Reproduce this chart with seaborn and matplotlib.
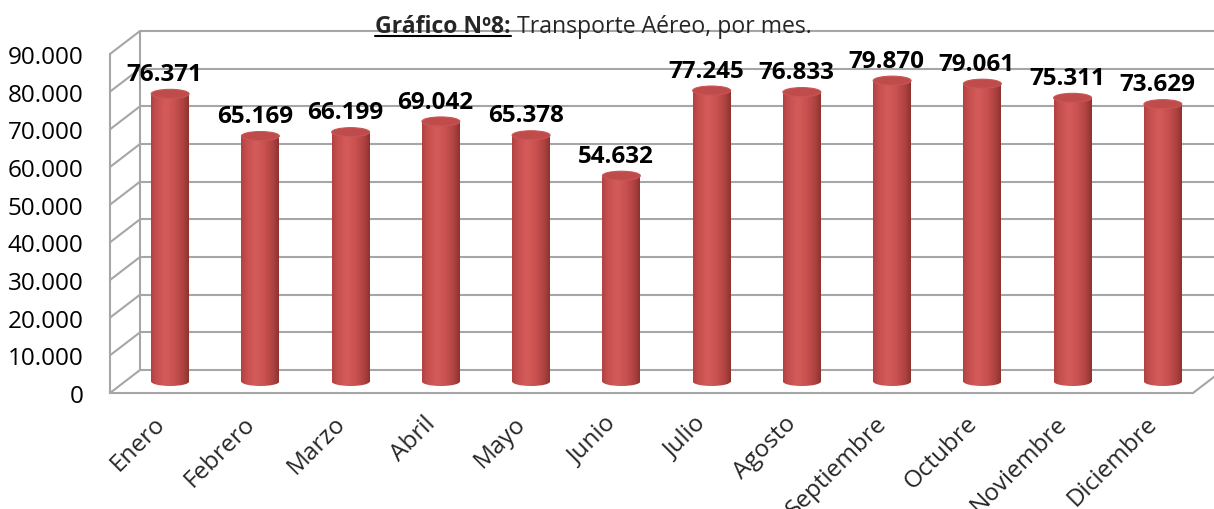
import numpy as np
import pandas as pd
import matplotlib
matplotlib.use("Agg")
import matplotlib.pyplot as plt
import seaborn as sns
from matplotlib.patches import Ellipse
from matplotlib.lines import Line2D
from matplotlib.colors import LinearSegmentedColormap
from matplotlib.ticker import FuncFormatter, FixedLocator
from matplotlib.transforms import ScaledTranslation

# ---- data ----
months = ["Enero", "Febrero", "Marzo", "Abril", "Mayo", "Junio", "Julio",
          "Agosto", "Septiembre", "Octubre", "Noviembre", "Diciembre"]
values = [76371, 65169, 66199, 69042, 65378, 54632, 77245,
          76833, 79870, 79061, 75311, 73629]
y_ticks = [0, 10000, 20000, 30000, 40000, 50000, 60000, 70000, 80000, 90000]
title_bold = "Gráfico Nº8:"
title_rest = " Transporte Aéreo, por mes."

sns.set_style("white")
plt.rcParams["font.family"] = ["Open Sans", "DejaVu Sans"]

W, H = 1214, 510
fig = plt.figure(figsize=(W / 100, H / 100), dpi=100)

# front plane geometry (pixels)
L, B, AW, AH = 110, 394, 1083, 339
DEPTH_X, DEPTH_Y = 30, 23          # back wall offset
ax = fig.add_axes([L / W, (H - B) / H, AW / W, AH / H])
axb = fig.add_axes([(L + DEPTH_X / 2) / W, (H - B + DEPTH_Y / 2) / H, AW / W, AH / H])

XMIN, XMAX, YMAX = -0.5, len(months) - 0.5, 90000
for a in (ax, axb):
    a.set_xlim(XMIN, XMAX)
    a.set_ylim(0, YMAX)
    a.patch.set_alpha(0)

ddx = DEPTH_X / AW * (XMAX - XMIN)
ddy = DEPTH_Y / AH * YMAX
grid_c = "#a6a6a6"
lw = 1.5
FS = 17.5

# back wall gridlines & left side wall
for t in y_ticks:
    ax.add_line(Line2D([XMIN + ddx, XMAX + ddx], [t + ddy, t + ddy], color=grid_c, lw=lw, clip_on=False))
    ax.add_line(Line2D([XMIN, XMIN + ddx], [t, t + ddy], color=grid_c, lw=lw, clip_on=False))
ax.add_line(Line2D([XMIN + ddx, XMIN + ddx], [ddy, YMAX + ddy], color=grid_c, lw=lw, clip_on=False))
ax.add_line(Line2D([XMAX, XMAX + ddx], [0, ddy], color=grid_c, lw=lw, clip_on=False))

# front axes spines / ticks
for s in ["top", "right"]:
    ax.spines[s].set_visible(False)
for s in ["left", "bottom"]:
    ax.spines[s].set_color(grid_c)
    ax.spines[s].set_linewidth(lw)
ax.yaxis.set_major_locator(FixedLocator(y_ticks))
ax.yaxis.set_major_formatter(FuncFormatter(lambda v, p: f"{int(v):,}".replace(",", ".")))
ax.tick_params(axis="y", direction="out", length=4, width=lw, color=grid_c, pad=15,
               labelsize=FS, labelcolor="black")
ax.xaxis.set_major_locator(FixedLocator(np.arange(XMIN, XMAX + 0.01, 1.0)))
ax.xaxis.set_minor_locator(FixedLocator(np.arange(len(months))))
ax.tick_params(axis="x", which="major", direction="out", length=5, width=lw, color=grid_c,
               labelbottom=False)
ax.tick_params(axis="x", which="minor", length=0, pad=19, labelsize=FS)
ax.set_xticklabels(months, minor=True, rotation=45, ha="right", rotation_mode="anchor", va="center")
ax.set_xlabel("")
ax.set_ylabel("")

# ---- cylinders ----
df = pd.DataFrame({"mes": months, "valor": values})
sns.barplot(data=df, x="mes", y="valor", order=months, ax=axb, color="#C0504D", width=0.42,
            saturation=1, zorder=3)
axb.set_axis_off()
axb.set_xlim(XMIN, XMAX)
axb.set_ylim(0, YMAX)

cmap = LinearSegmentedColormap.from_list(
    "cyl", [(0, "#B24241"), (0.15, "#C65050"), (0.38, "#D45B59"), (0.62, "#C95250"),
            (0.86, "#AD4240"), (1, "#8E3331")])
grad = np.linspace(0, 1, 64).reshape(1, -1)
ell_h = 9 / AH * YMAX
for p in list(axb.patches):
    x0, w, h = p.get_x(), p.get_width(), p.get_height()
    p.set_facecolor("none")
    p.set_edgecolor("none")
    img = axb.imshow(grad, cmap=cmap, extent=[x0, x0 + w, 0, h], aspect="auto", zorder=3,
                     interpolation="bilinear")
    img.set_clip_path(p)
    bot = Ellipse((x0 + w / 2, 0), w, ell_h, facecolor="none", edgecolor="none", zorder=2,
                  clip_on=False)
    axb.add_patch(bot)
    img2 = axb.imshow(grad, cmap=cmap, extent=[x0, x0 + w, -ell_h, 0], aspect="auto", zorder=2,
                      interpolation="bilinear")
    img2.set_clip_box(fig.bbox)
    img2.set_clip_path(bot)
    cap = Ellipse((x0 + w / 2, h), w, ell_h, facecolor="#BF4C4A", edgecolor="#C85654", lw=0.8, zorder=4)
    axb.add_patch(cap)

for i, v in enumerate(values):
    axb.annotate(f"{v:,}".replace(",", "."), xy=(i, v), xytext=(-4, 10), textcoords="offset points",
                 ha="center", va="baseline", fontsize=FS, fontweight="bold", color="black",
                 annotation_clip=False, zorder=6)
axb.set_xlim(XMIN, XMAX)
axb.set_ylim(0, YMAX)

# ---- title ----
t1 = fig.text(375 / W, (H - 33) / H, title_bold, fontsize=16.6, fontweight="bold", va="baseline", ha="left")
fig.canvas.draw()
r = fig.canvas.get_renderer()
bb = t1.get_window_extent(r)
fig.text(bb.x1 / W, (H - 33) / H, title_rest, fontsize=16.6, va="baseline", ha="left")
fig.add_artist(Line2D([bb.x0 / W, bb.x1 / W], [(H - 37) / H, (H - 37) / H], color="black", lw=1.5))

# shift month labels slightly right
for tk in ax.xaxis.get_minor_ticks():
    tk.label1.set_transform(tk.label1.get_transform() + ScaledTranslation(6 / 100, 0, fig.dpi_scale_trans))

fig.savefig("out.png", dpi=100)
